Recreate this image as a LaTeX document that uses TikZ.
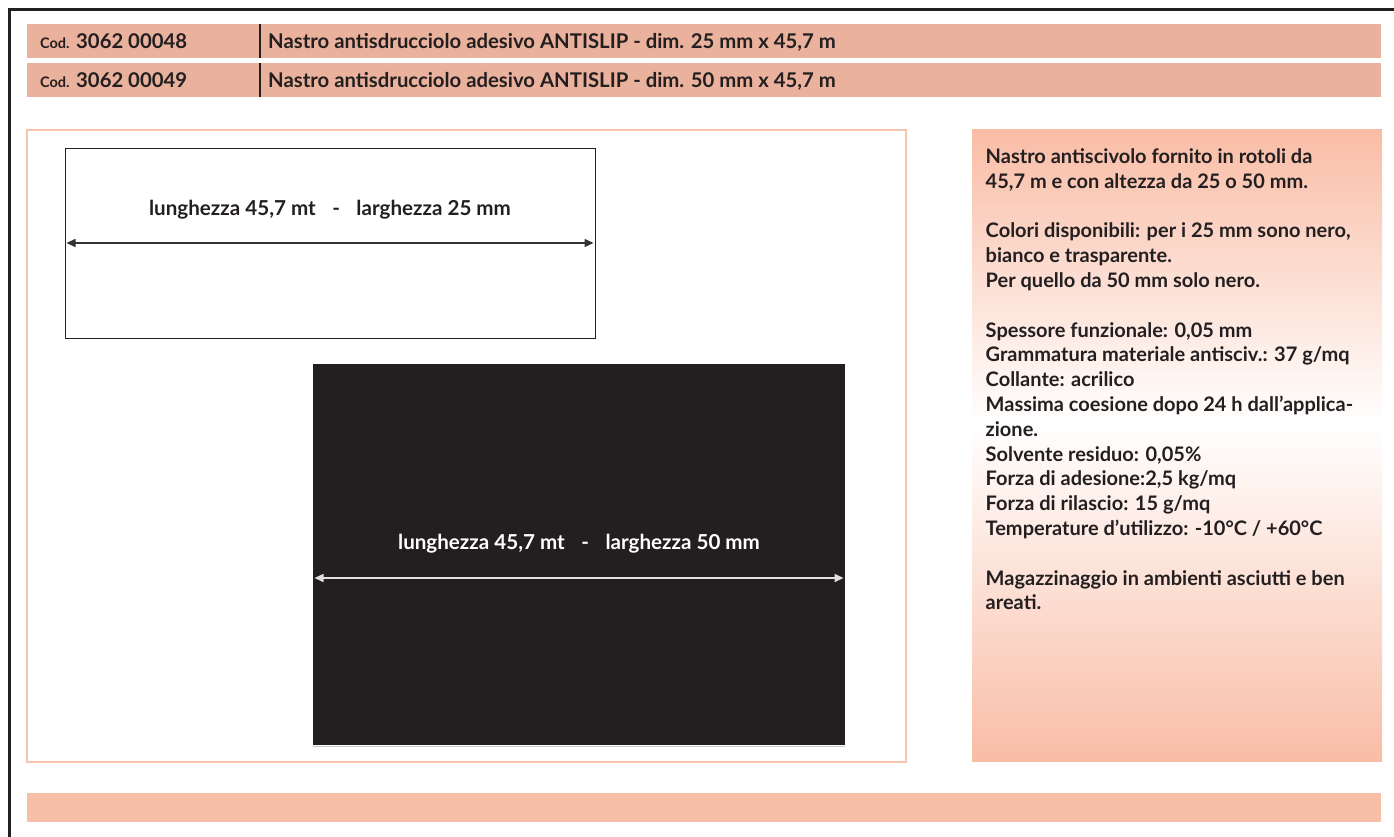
\documentclass[tikz,border=0pt]{standalone}
\usepackage{fontspec}
\setmainfont{Lato}
\usetikzlibrary{arrows.meta}
\definecolor{hdrsalmon}{RGB}{234,177,156}
\definecolor{panelsalmon}{RGB}{249,189,166}
\definecolor{boxsalmon}{RGB}{249,196,173}
\definecolor{barsalmon}{RGB}{248,191,168}
\definecolor{inkdark}{RGB}{35,31,32}

\begin{document}
\begin{tikzpicture}[x=1pt, y=-1pt,
  hdrtext/.style={anchor=base west, inner sep=0pt, text=inkdark, font=\bfseries\fontsize{20.3}{24}\selectfont},
  paneltext/.style={anchor=base west, inner sep=0pt, text=inkdark, font=\bfseries\fontsize{20}{24}\selectfont},
  dimtext/.style={anchor=base, inner sep=0pt, font=\bfseries\fontsize{20.6}{24}\selectfont},
  dimarrow/.style={line width=1.5pt, {Triangle[length=9pt,width=8pt]}-{Triangle[length=9pt,width=8pt]}}]
\useasboundingbox (0,0) rectangle (1394,837);

% Outer frame (top and left only)
\draw[inkdark, line width=2.5pt] (9.5,837) -- (9.5,9.5) -- (1394,9.5);

% Header bars
\fill[hdrsalmon] (27,24) rectangle (1381,58.5);
\fill[hdrsalmon] (27,63) rectangle (1381,97.5);
\draw[inkdark, line width=2pt] (260,24) -- (260,58.5);
\draw[inkdark, line width=2pt] (260,63) -- (260,97.5);

\node[hdrtext] (cod48) at (40,49) {{\fontsize{14.5}{16}\selectfont Cod.} 3062 00048};
\node[hdrtext] (cod49) at (40,88) {{\fontsize{14.5}{16}\selectfont Cod.} 3062 00049};
\node[hdrtext] (desc48) at (268,49) {Nastro antisdrucciolo adesivo ANTISLIP - dim. 25 mm x 45,7 m};
\node[hdrtext] (desc49) at (268,88) {Nastro antisdrucciolo adesivo ANTISLIP - dim. 50 mm x 45,7 m};

% Sample box
\draw[boxsalmon, line width=2.5pt] (27,130) rectangle (906,762);

% Tape 25 mm
\draw[inkdark, line width=1pt] (65,149) rectangle (595,338);
\node[dimtext, text=inkdark] (lbl25) at (330,215) {lunghezza 45,7 mt\hspace{0.8em}-\hspace{0.8em}larghezza 25 mm};
\coordinate (dim25l) at (66.5,243);
\coordinate (dim25r) at (593.5,243);
\draw[dimarrow, black!80] (dim25l) -- (dim25r);

% Tape 50 mm
\fill[inkdark] (313,364) rectangle (845,745);
\draw[black!20, line width=1pt] (313,746) -- (845,746);
\node[dimtext, text=white] (lbl50) at (579,549) {lunghezza 45,7 mt\hspace{0.8em}-\hspace{0.8em}larghezza 50 mm};
\coordinate (dim50l) at (314.5,578);
\coordinate (dim50r) at (843.5,578);
\draw[dimarrow, black!12] (dim50l) -- (dim50r);

% Info panel
\shade[top color=panelsalmon, bottom color=white] (972,130) rectangle (1382,425);
\shade[top color=white, bottom color=panelsalmon] (972,424.5) rectangle (1382,761);
\foreach \k/\txt in {0/{Nastro antiscivolo fornito in rotoli da},
  1/{45,7 m e con altezza da 25 o 50 mm.},
  3/{Colori disponibili: per i 25 mm sono nero,},
  4/{bianco e trasparente.},
  5/{Per quello da 50 mm solo nero.},
  7/{Spessore funzionale: 0,05 mm},
  8/{Grammatura materiale antisciv.: 37 g/mq},
  9/{Collante: acrilico},
  10/{Massima coesione dopo 24 h dall’applica-},
  11/{zione.},
  12/{Solvente residuo: 0,05\%},
  13/{Forza di adesione:2,5 kg/mq},
  14/{Forza di rilascio: 15 g/mq},
  15/{Temperature d’utilizzo: -10°C / +60°C},
  17/{Magazzinaggio in ambienti asciutti e ben},
  18/{areati.}}
  \node[paneltext] (info\k) at (985.5,163.5+24.8*\k) {\txt};

% Bottom bar
\fill[barsalmon] (27,793) rectangle (1381,822);
\end{tikzpicture}
\end{document}
